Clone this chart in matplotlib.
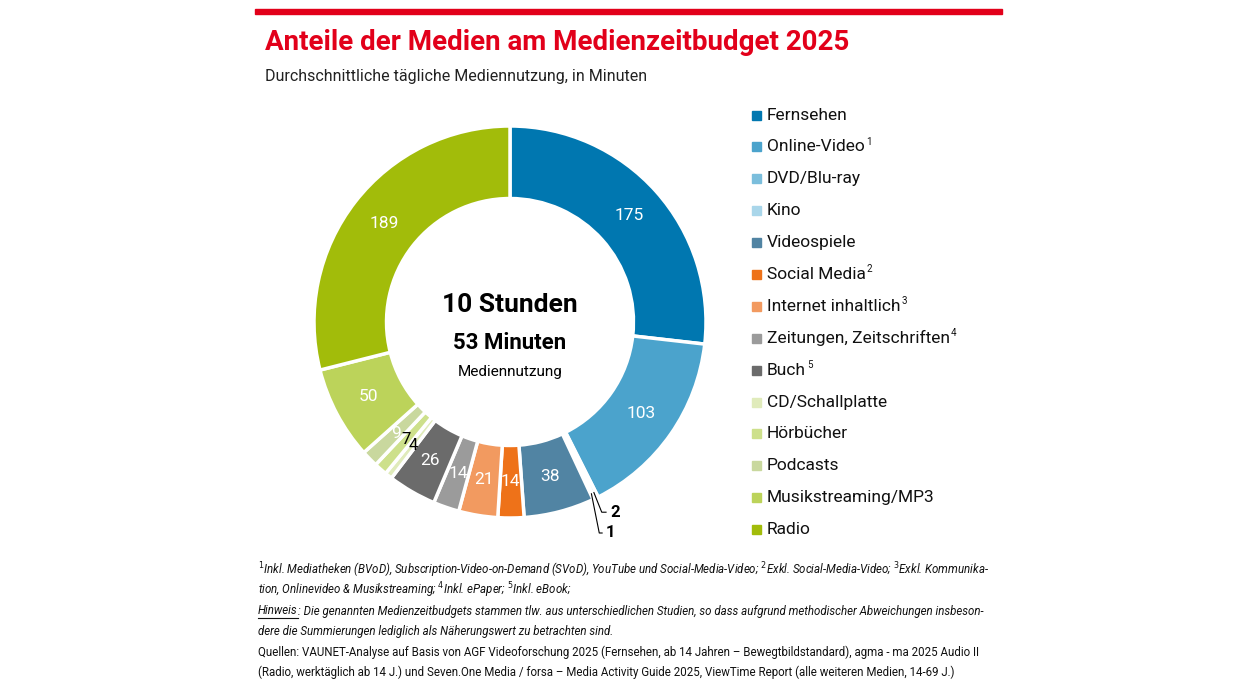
import matplotlib.pyplot as plt
import numpy as np

plt.rcParams['font.family'] = ['Roboto', 'DejaVu Sans']

categories = ['Fernsehen', 'Online-Video', 'DVD/Blu-ray', 'Kino', 'Videospiele',
              'Social Media', 'Internet inhaltlich', 'Zeitungen, Zeitschriften', 'Buch',
              'CD/Schallplatte', 'Hörbücher', 'Podcasts', 'Musikstreaming/MP3', 'Radio']
sups = ['', '1', '', '', '', '2', '3', '4', '5', '', '', '', '', '']
values = [175, 103, 2, 1, 38, 14, 21, 14, 26, 4, 7, 9, 50, 189]
colors = ['#0077B0', '#4BA3CC', '#7BBEDC', '#A9D6EA', '#5184A3', '#EE7219', '#F29A60',
          '#9B9B9B', '#6B6B6B', '#E0EBBB', '#CDE08B', '#C9D89E', '#BCD35A', '#A2BC0A']

W, H = 1260, 680
fig = plt.figure(figsize=(12.6, 6.8), dpi=100)

# top red bar
fig.add_artist(plt.Rectangle((255 / W, 1 - 14 / H), 747 / W, 5 / H, color='#E2001A',
                             transform=fig.transFigure))
fig.text(265 / W, 1 - 42 / H, 'Anteile der Medien am Medienzeitbudget 2025', color='#E2001A',
         fontsize=20, fontweight='bold', va='center')
fig.text(265 / W, 1 - 76 / H, 'Durchschnittliche tägliche Mediennutzung, in Minuten',
         fontsize=11.5, color='#222222', va='center')

cx, cy, R = 510, 322, 196
ax = fig.add_axes([(cx - R) / W, 1 - (cy + R) / H, 2 * R / W, 2 * R / H])
wedges, _ = ax.pie(values, colors=colors, startangle=90, counterclock=False,
                   wedgeprops=dict(width=0.37, edgecolor='white', linewidth=2.5))
ax.set_xlim(-1, 1)
ax.set_ylim(-1, 1)
ax.set_aspect('equal')

total = sum(values)
ang = 90.0
for v, c, w in zip(values, colors, wedges):
    mid = np.deg2rad(ang - 360 * v / total / 2)
    ang -= 360 * v / total
    if v >= 9:
        r = 0.815
        ax.text(r * np.cos(mid), r * np.sin(mid), str(v), color='white', fontsize=12.5,
                ha='center', va='center')
    elif v in (7, 4):
        r = 0.80
        ax.text(r * np.cos(mid), r * np.sin(mid), str(v), color='black', fontsize=12,
                ha='center', va='center')
    else:
        r = 0.97
        x0, y0 = r * np.cos(mid), r * np.sin(mid)
        dy = -0.1 if v == 2 else -0.2
        xe = 0.49 if v == 2 else 0.47
        ax.plot([x0, x0 + 0.04, xe], [y0, y0 + dy, y0 + dy],
                color='black', lw=0.8, clip_on=False)
        ax.text(xe + 0.02, y0 + dy, str(v), fontsize=12,
                fontweight='bold', ha='left', va='center')

ax.text(0, 0.085, '10 Stunden', fontsize=19, fontweight='bold', ha='center', va='center')
ax.text(0, -0.105, '53 Minuten', fontsize=16, fontweight='bold', ha='center', va='center')
ax.text(0, -0.255, 'Mediennutzung', fontsize=11, ha='center', va='center')

# legend
for i, (cat, s, c) in enumerate(zip(categories, sups, colors)):
    y = 1 - (115 + i * 31.9) / H
    fig.add_artist(plt.Rectangle((752 / W, y - 4.5 / H), 9 / W, 9 / H, color=c,
                                 transform=fig.transFigure))
    t = fig.text(767 / W, y, cat, fontsize=12.5, va='center', color='#111111')
    if s:
        bb = t.get_window_extent(fig.canvas.get_renderer())
        fig.text(bb.x1 / W + 1 / W, y + 5 / H, s, fontsize=7, va='center', color='#111111')

notes = [
    ('$^{1}$Inkl. Mediatheken (BVoD), Subscription-Video-on-Demand (SVoD), YouTube und Social-Media-Video; '
     '$^{2}$Exkl. Social-Media-Video; $^{3}$Exkl. Kommunika-', 'italic'),
    ('tion, Onlinevideo & Musikstreaming; $^{4}$Inkl. ePaper; $^{5}$Inkl. eBook;', 'italic'),
    (None, 'italic'),
    ('dere die Summierungen lediglich als Näherungswert zu betrachten sind.', 'italic'),
    ('Quellen: VAUNET-Analyse auf Basis von AGF Videoforschung 2025 (Fernsehen, ab 14 Jahren – '
     'Bewegtbildstandard), agma - ma 2025 Audio II', 'normal'),
    ('(Radio, werktäglich ab 14 J.) und Seven.One Media / forsa – Media Activity Guide 2025, '
     'ViewTime Report (alle weiteren Medien, 14-69 J.)', 'normal'),
]
renderer = fig.canvas.get_renderer()
for i, (t, st) in enumerate(notes):
    y = 1 - (570 + i * 20.5) / H
    if t is None:
        h = fig.text(258 / W, y, 'Hinweis', fontsize=8.3, style=st, va='center', color='#111111')
        bb = h.get_window_extent(renderer)
        fig.add_artist(plt.Line2D([bb.x0 / W, bb.x1 / W], [bb.y0 / H - 0.5 / H] * 2, lw=0.8,
                                  color='#111111', transform=fig.transFigure))
        fig.text(bb.x1 / W, y, ': Die genannten Medienzeitbudgets stammen tlw. aus '
                 'unterschiedlichen Studien, so dass aufgrund methodischer Abweichungen insbeson-',
                 fontsize=8.3, style=st, va='center', color='#111111')
    else:
        fig.text(258 / W, y, t, fontsize=8.3, style=st, va='center', color='#111111')

fig.savefig('out.png', dpi=100)
